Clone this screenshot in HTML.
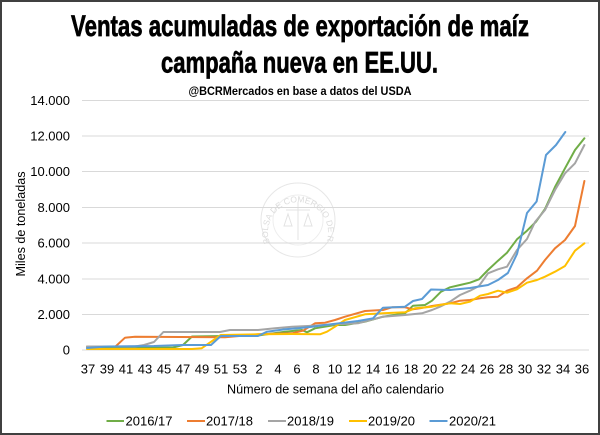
<!DOCTYPE html>
<html><head><meta charset="utf-8"><style>
html,body{margin:0;padding:0;background:#fff;}
svg{display:block;}
</style></head><body>
<svg width="600" height="435" viewBox="0 0 600 435" xmlns="http://www.w3.org/2000/svg">
<rect x="0" y="0" width="600" height="435" fill="#fff"/>
<rect x="1" y="1" width="598" height="433" fill="none" stroke="#404040" stroke-width="2"/>

<!-- Title -->
<text x="300" y="36" text-anchor="middle" font-family="'Liberation Sans Narrow','Liberation Sans',sans-serif" font-weight="bold" font-size="30" textLength="458" lengthAdjust="spacingAndGlyphs" fill="#000" stroke="#000" stroke-width="0.7">Ventas acumuladas de exportación de maíz</text>
<text x="299.5" y="72.5" text-anchor="middle" font-family="'Liberation Sans Narrow','Liberation Sans',sans-serif" font-weight="bold" font-size="30" textLength="277" lengthAdjust="spacingAndGlyphs" fill="#000" stroke="#000" stroke-width="0.7">campaña nueva en EE.UU.</text>
<text x="300" y="95" text-anchor="middle" font-family="'Liberation Sans Narrow','Liberation Sans',sans-serif" font-weight="bold" font-size="12" textLength="223" lengthAdjust="spacingAndGlyphs" fill="#000">@BCRMercados  en base a datos del USDA</text>

<!-- Watermark seal -->
<g opacity="0.9">
<circle cx="298" cy="220" r="37" fill="none" stroke="#e4e4e4" stroke-width="1"/>
<circle cx="298" cy="220" r="25" fill="none" stroke="#ececec" stroke-width="1"/>
<defs><path id="sealArc" d="M 270 243 A 30 30 0 1 1 326 243"/></defs>
<text font-family="'Liberation Sans',sans-serif" font-size="8.5" fill="#d8d8d8"><textPath href="#sealArc">BOLSA DE COMERCIO DE ROSARIO</textPath></text>
<line x1="298" y1="202" x2="298" y2="240" stroke="#e0e0e0" stroke-width="1"/>
<line x1="286" y1="210" x2="310" y2="210" stroke="#e0e0e0" stroke-width="1"/>
<path d="M284 226 L288 214 L292 226 Z M304 226 L308 214 L312 226 Z" fill="none" stroke="#e0e0e0" stroke-width="1"/>
</g>

<!-- Grid -->
<g stroke="#d9d9d9" stroke-width="1">
<line x1="82" y1="100.5" x2="589" y2="100.5"/>
<line x1="82" y1="136" x2="589" y2="136"/>
<line x1="82" y1="171.5" x2="589" y2="171.5"/>
<line x1="82" y1="207.5" x2="589" y2="207.5"/>
<line x1="82" y1="243" x2="589" y2="243"/>
<line x1="82" y1="279" x2="589" y2="279"/>
<line x1="82" y1="314.5" x2="589" y2="314.5"/>
<line x1="82" y1="350" x2="589" y2="350"/>
</g>

<!-- Y labels -->
<g font-family="'Liberation Sans',sans-serif" font-size="13" fill="#000" text-anchor="end">
<text x="70" y="105">14.000</text>
<text x="70" y="140.5">12.000</text>
<text x="70" y="176">10.000</text>
<text x="70" y="212">8.000</text>
<text x="70" y="247.5">6.000</text>
<text x="70" y="283.5">4.000</text>
<text x="70" y="319">2.000</text>
<text x="70" y="354.5">0</text>
</g>
<text transform="translate(25,224) rotate(-90)" text-anchor="middle" font-family="'Liberation Sans',sans-serif" font-size="13" textLength="105" lengthAdjust="spacingAndGlyphs" fill="#000">Miles de toneladas</text>

<!-- X labels -->
<g font-family="'Liberation Sans',sans-serif" font-size="13" fill="#000" text-anchor="middle">
<text x="88" y="373.5">37</text>
<text x="107" y="373.5">39</text>
<text x="126" y="373.5">41</text>
<text x="145" y="373.5">43</text>
<text x="164" y="373.5">45</text>
<text x="183" y="373.5">47</text>
<text x="202" y="373.5">49</text>
<text x="221" y="373.5">51</text>
<text x="240" y="373.5">53</text>
<text x="259" y="373.5">2</text>
<text x="278" y="373.5">4</text>
<text x="297" y="373.5">6</text>
<text x="316" y="373.5">8</text>
<text x="335" y="373.5">10</text>
<text x="354" y="373.5">12</text>
<text x="373" y="373.5">14</text>
<text x="392" y="373.5">16</text>
<text x="411" y="373.5">18</text>
<text x="430" y="373.5">20</text>
<text x="449" y="373.5">22</text>
<text x="468" y="373.5">24</text>
<text x="487" y="373.5">26</text>
<text x="506" y="373.5">28</text>
<text x="525" y="373.5">30</text>
<text x="544" y="373.5">32</text>
<text x="563" y="373.5">34</text>
<text x="582" y="373.5">36</text>
</g>
<text x="335.5" y="393.5" text-anchor="middle" font-family="'Liberation Sans',sans-serif" font-size="13" textLength="217" lengthAdjust="spacingAndGlyphs" fill="#000">Número de semana del año calendario</text>

<!-- Series -->
<g fill="none" stroke-width="2" stroke-linejoin="round" stroke-linecap="round">
<polyline stroke="#70AD47" points="87,348 173,347.5 183,345 192,336.5 225,336 258,335.5 285,331.7 302,330 307,332.3 315,328.3 335,325 345,325 365,321.7 383,316.7 405,313.3 413,305.7 425,305 432,300.7 441,291.7 450,287.3 460,285 470,282.7 479,279.3 488,270 498,260.7 507,252.7 517,239.3 527,230.7 536,221.7 545,209 555,187 565,168.3 575,150 584.4,138.3"/>
<polyline stroke="#ED7D31" points="87,346.5 115.5,346.5 125,337.7 135,336.8 225,337.2 258,334.3 292,333.3 303,330.7 315,323.3 325,322.7 335,320 345,316.7 365,311 383,310 392,307.3 405,307.3 413,309.3 420,308.3 432,306 450,303.3 460,300.7 470,300 480,298.3 488,297.3 498,296.7 507,290.7 517,287.3 527,278.3 537,270.7 545,260 555,248.3 565,240 575,226 584.4,181"/>
<polyline stroke="#A5A5A5" points="87,346.5 135,346.5 144,345 154,342 163.4,332 220,332 230,330 258,330 275,328.3 292,326.7 308,326 335,324.3 358,323.3 383,316.7 405,315 422,313.3 432,310 440,306.7 450,301.7 460,295 470,290.7 479,286 488,273.3 498,269.3 507,266.7 517,250 527,239 535,222 545,210 555,190 565,173.3 575,163.3 584.4,145"/>
<polyline stroke="#FFC000" points="87,349 192,349 201.6,348.3 220.8,335 258,334.3 292,334 320,334.3 327,331.7 335,326.7 345,320 365,314.3 383,313.3 405,312.3 415,308.3 432,306.7 440,305 450,303.3 460,304 470,301.7 480,295.7 488,294 498,290.7 507,292.7 517,289.3 527,282.7 537,280 545,276.7 555,271.7 565,266 575,250.7 584.4,243.3"/>
<polyline stroke="#5B9BD5" points="87,348 106,346.5 154,346 182,345 211,345 220.8,336 258,336 267,331.7 285,329.3 298,328.3 312,326.7 325,325 358,321 373,318.3 383,307.7 405,306.7 413,301 422,299 431,289.5 450,290 470,288 488,285 498,280 507.9,273 517,254 527,213 536.6,201.5 546,155 556,145 565.3,132"/>
</g>

<!-- Legend -->
<g stroke-width="2">
<line x1="106.5" y1="421" x2="124" y2="421" stroke="#70AD47"/>
<line x1="187" y1="421" x2="205" y2="421" stroke="#ED7D31"/>
<line x1="268" y1="421" x2="286" y2="421" stroke="#A5A5A5"/>
<line x1="349" y1="421" x2="367" y2="421" stroke="#FFC000"/>
<line x1="429.5" y1="421" x2="447.5" y2="421" stroke="#5B9BD5"/>
</g>
<g font-family="'Liberation Sans',sans-serif" font-size="13" fill="#000">
<text x="125.5" y="425.5">2016/17</text>
<text x="206" y="425.5">2017/18</text>
<text x="287" y="425.5">2018/19</text>
<text x="368" y="425.5">2019/20</text>
<text x="449" y="425.5">2020/21</text>
</g>
</svg>
</body></html>
